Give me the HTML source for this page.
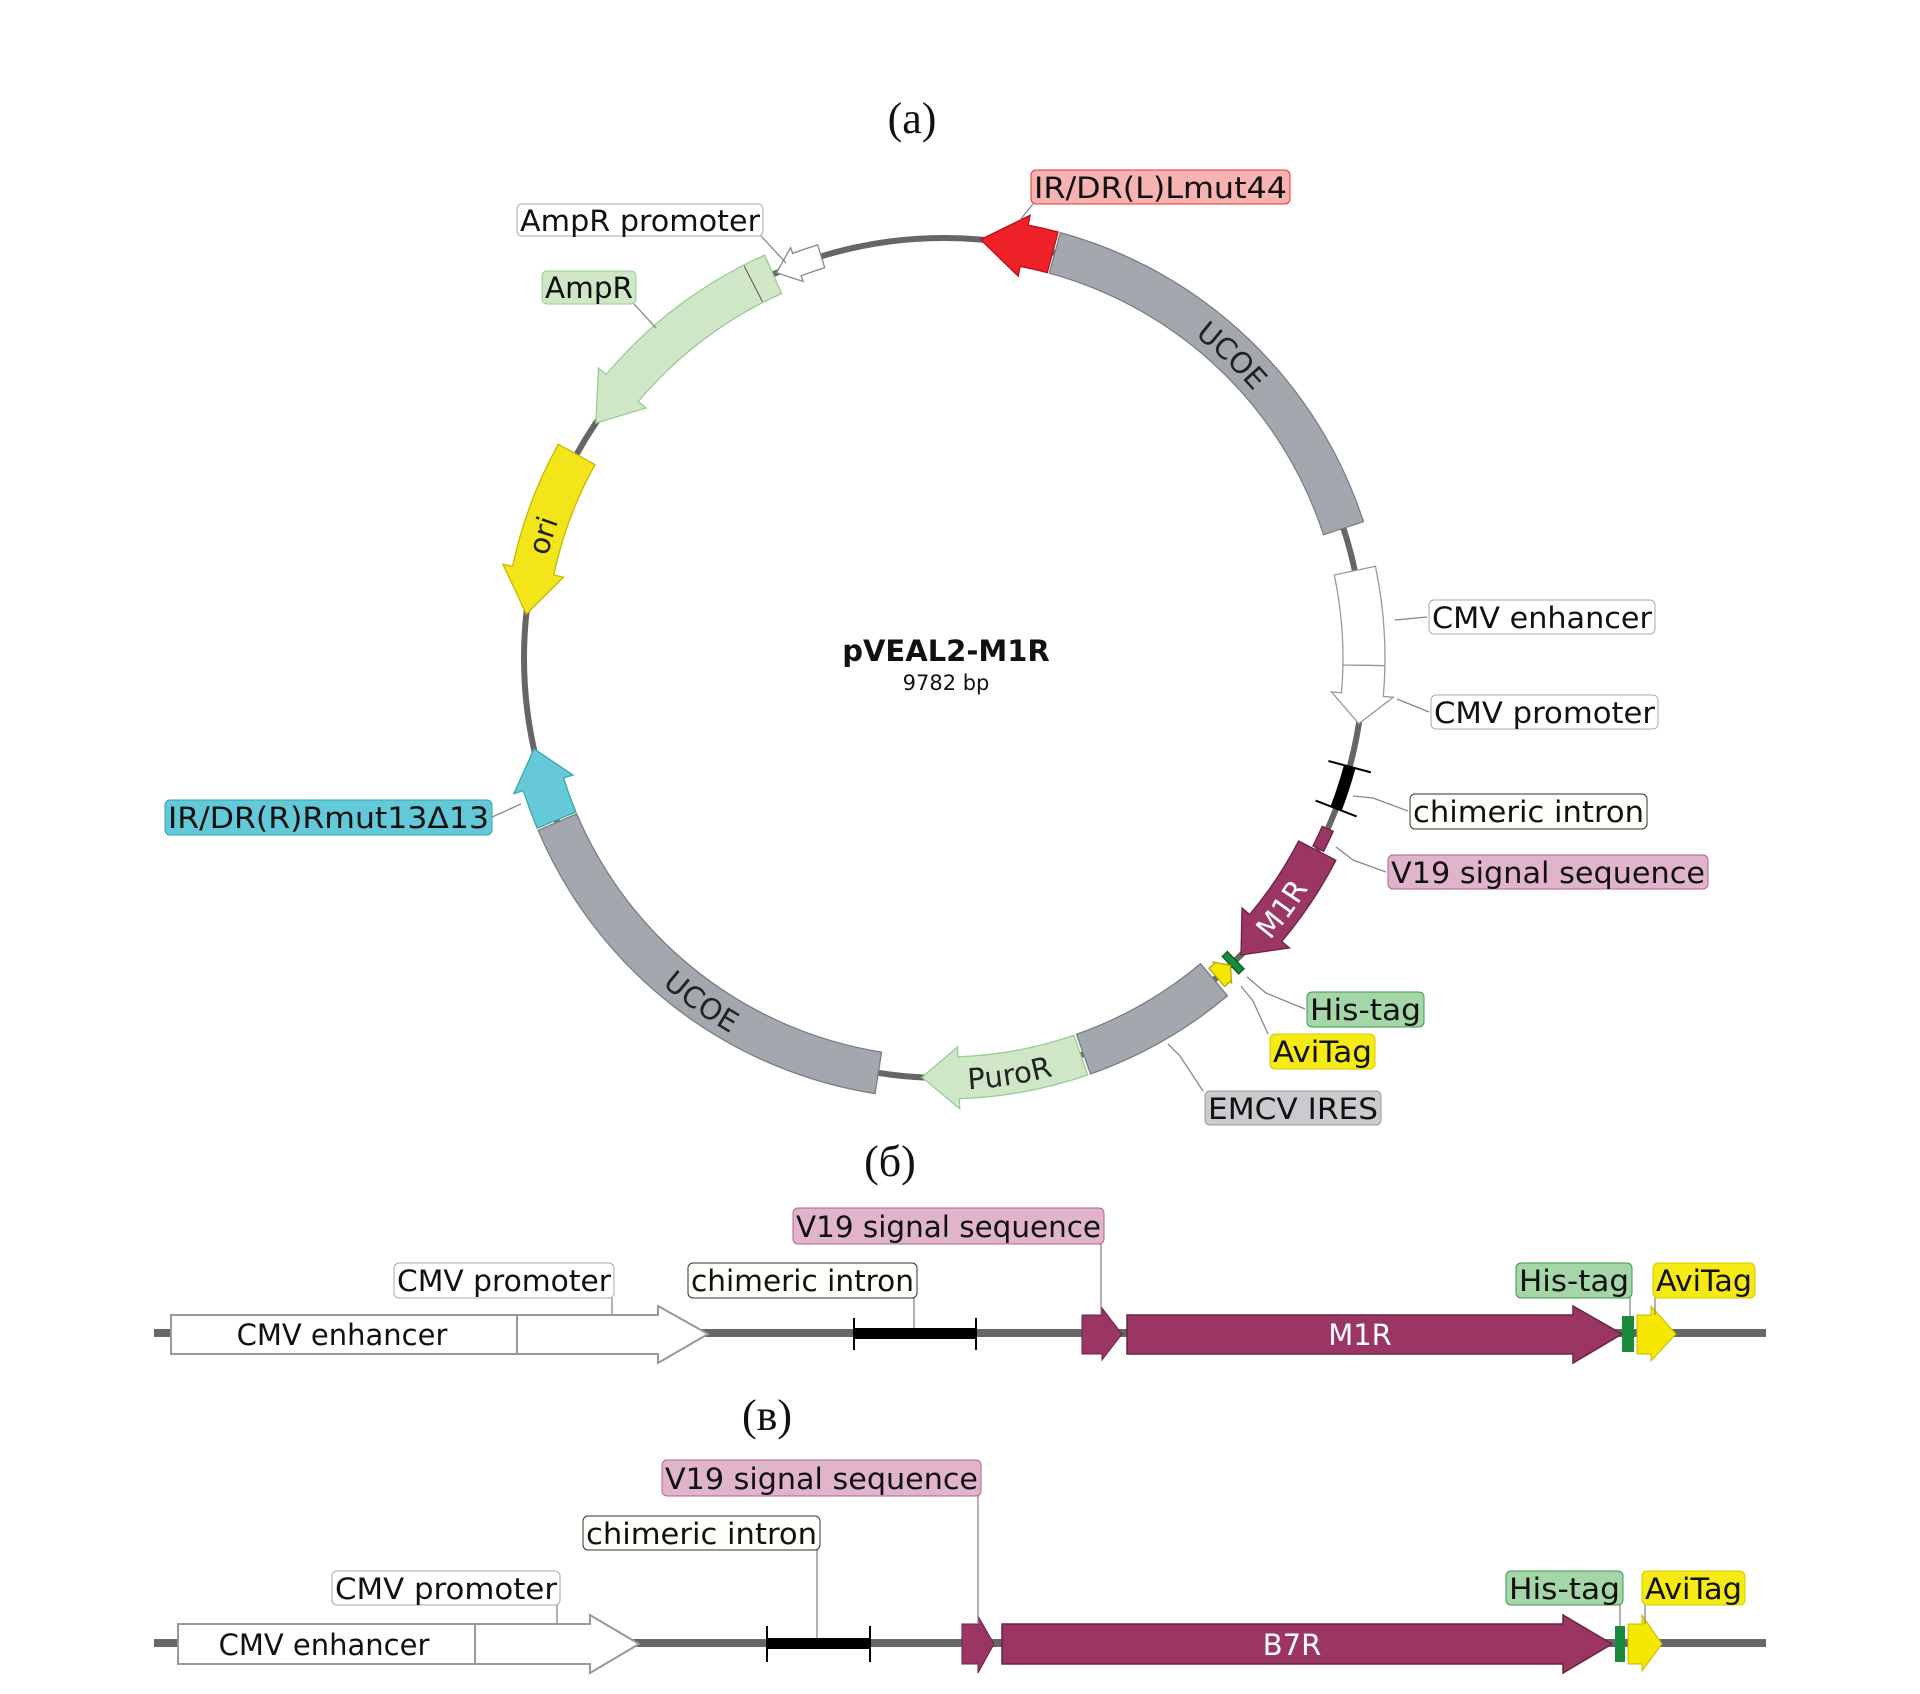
<!DOCTYPE html>
<html><head><meta charset="utf-8"><style>
html,body{margin:0;padding:0;background:#fff;}
svg{display:block;}
.lb{font-family:"DejaVu Sans","Liberation Sans",sans-serif;font-size:29px;fill:#111;}
.ser{font-family:"Liberation Serif",serif;font-size:44px;fill:#111;}
.ft{font-family:"DejaVu Sans","Liberation Sans",sans-serif;font-size:29px;}
.ld{stroke:#888;stroke-width:1.3;fill:none;}
</style></head><body>
<svg id="s" width="1920" height="1694" viewBox="0 0 1920 1694" xmlns="http://www.w3.org/2000/svg">
<defs>
<path id="cw" d="M944,240 A420,420 0 1 1 944,1080 A420,420 0 1 1 944,240"/>
<path id="ccw" d="M944,240 A420,420 0 1 0 944,1080 A420,420 0 1 0 944,240"/>
</defs>
<text class="ser" x="912" y="133" text-anchor="middle">(a)</text>
<text class="ser" x="890" y="1176" text-anchor="middle">(б)</text>
<text class="ser" x="767" y="1430" text-anchor="middle">(в)</text>

<circle cx="944" cy="658" r="420" fill="none" stroke="#666" stroke-width="6"/>
<g id="feats"></g>

<text x="946" y="661" text-anchor="middle" font-family="DejaVu Sans,Liberation Sans,sans-serif" font-weight="bold" font-size="29" fill="#111">pVEAL2-M1R</text>
<text x="946" y="690" text-anchor="middle" font-family="DejaVu Sans,Liberation Sans,sans-serif" font-size="21" fill="#111">9782 bp</text>

<text class="ft" fill="#222" dominant-baseline="central" text-anchor="middle"><textPath href="#cw" startOffset="318">UCOE</textPath></text>
<text class="ft" fill="#222" dominant-baseline="central" text-anchor="middle"><textPath href="#ccw" startOffset="1060">UCOE</textPath></text>
<text class="ft" fill="#222" dominant-baseline="central" text-anchor="middle"><textPath href="#ccw" startOffset="1385">PuroR</textPath></text>
<text class="ft" fill="#fff" dominant-baseline="central" text-anchor="middle"><textPath href="#ccw" startOffset="1712">M1R</textPath></text>
<text class="ft" fill="#222" dominant-baseline="central" text-anchor="middle"><textPath href="#cw" startOffset="2105">ori</textPath></text>

<!-- leaders circle -->
<polyline class="ld" points="1033,204 1020,220"/>
<polyline class="ld" points="761,236 786,263"/>
<polyline class="ld" points="634,304 656,328"/>
<polyline class="ld" points="1427,617 1395,620"/>
<polyline class="ld" points="1429,712 1397,699"/>
<polyline class="ld" points="1408,811 1373,798 1353,796"/>
<polyline class="ld" points="1386,872 1353,860 1336,847"/>
<polyline class="ld" points="1305,1009 1266,993 1247,977"/>
<polyline class="ld" points="1268,1034 1253,1001 1241,986"/>
<polyline class="ld" points="1203,1091 1180,1056 1168,1044"/>
<polyline class="ld" points="490,818 521,804"/>

<!-- linear б -->
<line x1="154" y1="1333" x2="1766" y2="1333" stroke="#666" stroke-width="8"/>
<rect x="171" y="1315" width="346" height="39" fill="#fff" stroke="#999" stroke-width="2"/>
<polygon points="517,1315 658,1315 658,1306 708,1334 658,1363 658,1354 517,1354" fill="#fff" stroke="#999" stroke-width="2"/>
<text class="lb" x="342" y="1345" text-anchor="middle">CMV enhancer</text>
<rect x="854" y="1328" width="122" height="11" fill="#000"/>
<line x1="854" y1="1318" x2="854" y2="1350" stroke="#000" stroke-width="2"/>
<line x1="976" y1="1318" x2="976" y2="1350" stroke="#000" stroke-width="2"/>
<polygon points="1082,1315 1102,1315 1102,1308 1122,1334 1102,1360 1102,1354 1082,1354" fill="#9b3564" stroke="#6a2344" stroke-width="1"/>
<polygon points="1127,1315 1573,1315 1573,1306 1622,1334 1573,1363 1573,1354 1127,1354" fill="#9b3564" stroke="#6a2344" stroke-width="1.5"/>
<text class="ft" fill="#fff" x="1360" y="1345" text-anchor="middle">M1R</text>
<rect x="1622" y="1316" width="12" height="36" fill="#1a8a3c"/>
<polygon points="1637,1315 1651,1315 1651,1306 1676,1334 1651,1361 1651,1354 1637,1354" fill="#f5e800" stroke="#c8b800" stroke-width="1"/>
<polyline class="ld" points="1101,1244 1101,1315"/>
<polyline class="ld" points="914,1298 914,1328"/>
<polyline class="ld" points="612,1298 612,1315"/>
<polyline class="ld" points="1630,1298 1630,1316"/>
<polyline class="ld" points="1655,1298 1655,1315"/>

<!-- linear в -->
<line x1="154" y1="1643" x2="1766" y2="1643" stroke="#666" stroke-width="8"/>
<rect x="178" y="1624" width="297" height="40" fill="#fff" stroke="#999" stroke-width="2"/>
<polygon points="475,1624 590,1624 590,1615 639,1644 590,1673 590,1664 475,1664" fill="#fff" stroke="#999" stroke-width="2"/>
<text class="lb" x="324" y="1655" text-anchor="middle">CMV enhancer</text>
<rect x="767" y="1638" width="103" height="11" fill="#000"/>
<line x1="767" y1="1626" x2="767" y2="1662" stroke="#000" stroke-width="2"/>
<line x1="870" y1="1626" x2="870" y2="1662" stroke="#000" stroke-width="2"/>
<polygon points="962,1624 978,1624 978,1616 994,1644 978,1673 978,1664 962,1664" fill="#9b3564" stroke="#6a2344" stroke-width="1"/>
<polygon points="1002,1624 1563,1624 1563,1615 1612,1644 1563,1673 1563,1664 1002,1664" fill="#9b3564" stroke="#6a2344" stroke-width="1.5"/>
<text class="ft" fill="#fff" x="1292" y="1655" text-anchor="middle">B7R</text>
<rect x="1615" y="1626" width="10" height="36" fill="#1a8a3c"/>
<polygon points="1628,1624 1642,1624 1642,1615 1662,1644 1642,1671 1642,1664 1628,1664" fill="#f5e800" stroke="#c8b800" stroke-width="1"/>
<polyline class="ld" points="978,1496 978,1624"/>
<polyline class="ld" points="817,1550 817,1638"/>
<polyline class="ld" points="557,1605 557,1624"/>
<polyline class="ld" points="1620,1605 1620,1626"/>
<polyline class="ld" points="1645,1605 1645,1624"/>

<!-- labels -->
<g id="labels">
<rect x="1031" y="170" width="259" height="34" rx="5" fill="#f7b2b2" stroke="#e33"/><text class="lb" x="1034" y="198" textLength="253" lengthAdjust="spacingAndGlyphs">IR/DR(L)Lmut44</text>
<rect x="517" y="204" width="246" height="32" rx="5" fill="#fff" stroke="#aaa"/><text class="lb" x="520" y="231" textLength="240" lengthAdjust="spacingAndGlyphs">AmpR promoter</text>
<rect x="542" y="271" width="94" height="33" rx="5" fill="#cfe7c6" stroke="#9c9"/><text class="lb" x="545" y="298" textLength="88" lengthAdjust="spacingAndGlyphs">AmpR</text>
<rect x="1429" y="600" width="226" height="34" rx="5" fill="#fff" stroke="#aaa"/><text class="lb" x="1432" y="628" textLength="220" lengthAdjust="spacingAndGlyphs">CMV enhancer</text>
<rect x="1431" y="695" width="227" height="34" rx="5" fill="#fff" stroke="#aaa"/><text class="lb" x="1434" y="723" textLength="221" lengthAdjust="spacingAndGlyphs">CMV promoter</text>
<rect x="1410" y="794" width="237" height="35" rx="5" fill="#fffef8" stroke="#333"/><text class="lb" x="1413" y="822" textLength="231" lengthAdjust="spacingAndGlyphs">chimeric intron</text>
<rect x="1388" y="855" width="320" height="34" rx="5" fill="#e0b5cb" stroke="#b5628e"/><text class="lb" x="1391" y="883" textLength="314" lengthAdjust="spacingAndGlyphs">V19 signal sequence</text>
<rect x="1307" y="992" width="117" height="35" rx="5" fill="#a5d6a7" stroke="#3a9a4a"/><text class="lb" x="1310" y="1020" textLength="111" lengthAdjust="spacingAndGlyphs">His-tag</text>
<rect x="1270" y="1034" width="105" height="35" rx="5" fill="#f5ea14" stroke="#d8c800"/><text class="lb" x="1273" y="1062" textLength="99" lengthAdjust="spacingAndGlyphs">AviTag</text>
<rect x="1205" y="1091" width="176" height="34" rx="5" fill="#c9cbce" stroke="#999"/><text class="lb" x="1208" y="1119" textLength="170" lengthAdjust="spacingAndGlyphs">EMCV IRES</text>
<rect x="165" y="800" width="327" height="35" rx="5" fill="#63c8d8" stroke="#3aa"/><text class="lb" x="168" y="828" textLength="321" lengthAdjust="spacingAndGlyphs">IR/DR(R)Rmut13Δ13</text>

<rect x="793" y="1208" width="311" height="36" rx="5" fill="#e0b5cb" stroke="#b5628e"/><text class="lb" x="796" y="1237" textLength="305" lengthAdjust="spacingAndGlyphs">V19 signal sequence</text>
<rect x="688" y="1263" width="229" height="35" rx="5" fill="#fffef8" stroke="#333"/><text class="lb" x="691" y="1291" textLength="223" lengthAdjust="spacingAndGlyphs">chimeric intron</text>
<rect x="394" y="1263" width="220" height="35" rx="5" fill="#fff" stroke="#aaa"/><text class="lb" x="397" y="1291" textLength="214" lengthAdjust="spacingAndGlyphs">CMV promoter</text>
<rect x="1516" y="1263" width="116" height="35" rx="5" fill="#a5d6a7" stroke="#3a9a4a"/><text class="lb" x="1519" y="1291" textLength="110" lengthAdjust="spacingAndGlyphs">His-tag</text>
<rect x="1653" y="1263" width="102" height="35" rx="5" fill="#f5ea14" stroke="#d8c800"/><text class="lb" x="1656" y="1291" textLength="96" lengthAdjust="spacingAndGlyphs">AviTag</text>

<rect x="662" y="1460" width="319" height="36" rx="5" fill="#e0b5cb" stroke="#b5628e"/><text class="lb" x="665" y="1489" textLength="313" lengthAdjust="spacingAndGlyphs">V19 signal sequence</text>
<rect x="583" y="1516" width="237" height="34" rx="5" fill="#fffef8" stroke="#333"/><text class="lb" x="586" y="1544" textLength="231" lengthAdjust="spacingAndGlyphs">chimeric intron</text>
<rect x="332" y="1571" width="228" height="34" rx="5" fill="#fff" stroke="#aaa"/><text class="lb" x="335" y="1599" textLength="222" lengthAdjust="spacingAndGlyphs">CMV promoter</text>
<rect x="1506" y="1571" width="117" height="34" rx="5" fill="#a5d6a7" stroke="#3a9a4a"/><text class="lb" x="1509" y="1599" textLength="111" lengthAdjust="spacingAndGlyphs">His-tag</text>
<rect x="1642" y="1571" width="103" height="34" rx="5" fill="#f5ea14" stroke="#d8c800"/><text class="lb" x="1645" y="1599" textLength="97" lengthAdjust="spacingAndGlyphs">AviTag</text>
</g>
</svg>
<script>
(function(){
var cx=944,cy=658,R=420,NS="http://www.w3.org/2000/svg",g=document.getElementById("feats");
function P(a,r){var t=a*Math.PI/180;return (cx+r*Math.sin(t)).toFixed(1)+","+(cy-r*Math.cos(t)).toFixed(1);}
function arc(a1,a2,r,sw){var large=Math.abs(a2-a1)>180?1:0;return "A"+r+","+r+" 0 "+large+" "+sw+" "+P(a2,r);}
function feat(a1,a2,dir,fill,stroke,w,W,h){
 w=w||21;W=W||31;h=h||6;var d;
 if(dir==0){d="M"+P(a1,R+w)+arc(a1,a2,R+w,1)+"L"+P(a2,R-w)+arc(a2,a1,R-w,0)+"Z";}
 else if(dir==1){var b=a2-h;d="M"+P(a1,R+w)+arc(a1,b,R+w,1)+"L"+P(b,R+W)+"L"+P(a2,R)+"L"+P(b,R-W)+"L"+P(b,R-w)+arc(b,a1,R-w,0)+"Z";}
 else {var b=a1+h;d="M"+P(a2,R+w)+arc(a2,b,R+w,0)+"L"+P(b,R+W)+"L"+P(a1,R)+"L"+P(b,R-W)+"L"+P(b,R-w)+arc(b,a2,R-w,1)+"Z";}
 var p=document.createElementNS(NS,"path");p.setAttribute("d",d);p.setAttribute("fill",fill);p.setAttribute("stroke",stroke);p.setAttribute("stroke-width","1.3");g.appendChild(p);
}
function line(a,r1,r2,c,sw){var l=document.createElementNS(NS,"path");l.setAttribute("d","M"+P(a,r1)+"L"+P(a,r2));l.setAttribute("stroke",c);l.setAttribute("stroke-width",sw);g.appendChild(l);}
feat(5,15,-1,"#ee2028","#b51018",21,31,6);
feat(15.3,72,0,"#a3a8ae","#7a7e84");
feat(78,91,0,"#fff","#999");
feat(91,99,1,"#fff","#999",21,31,4);
var ip=document.createElementNS(NS,"path");ip.setAttribute("d","M"+P(105,R)+arc(105,111,R,1));ip.setAttribute("stroke","#000");ip.setAttribute("stroke-width","12");ip.setAttribute("fill","none");g.appendChild(ip);
line(105,R-22,R+22,"#000",2);line(111,R-22,R+22,"#000",2);
feat(114,117,0,"#9b3564","#6a2344",6);
feat(117.3,135,1,"#9b3564","#6a2344",21,31,5);
feat(136,137,0,"#1a8a3c","#0b5a24",12);
feat(137,139.5,-1,"#f5e800","#b8a800",12,14,1.5);
feat(140,160.6,0,"#a3a8ae","#7a7e84");
feat(161,183,1,"#cfe7c6","#9c9",21,31,5);
feat(189,247,0,"#a3a8ae","#7a7e84");
feat(247.3,257.5,1,"#66c9d9","#3aa",21,31,5);
feat(276,299,-1,"#f2e61a","#c8b800",21,31,6);
feat(304,336,-1,"#cfe7c6","#9c9",21,31,6);
line(333,R-20,R+20,"#555",1);
feat(336.5,343,-1,"#fff","#888",12,18,3);
})();
</script>
</body></html>
